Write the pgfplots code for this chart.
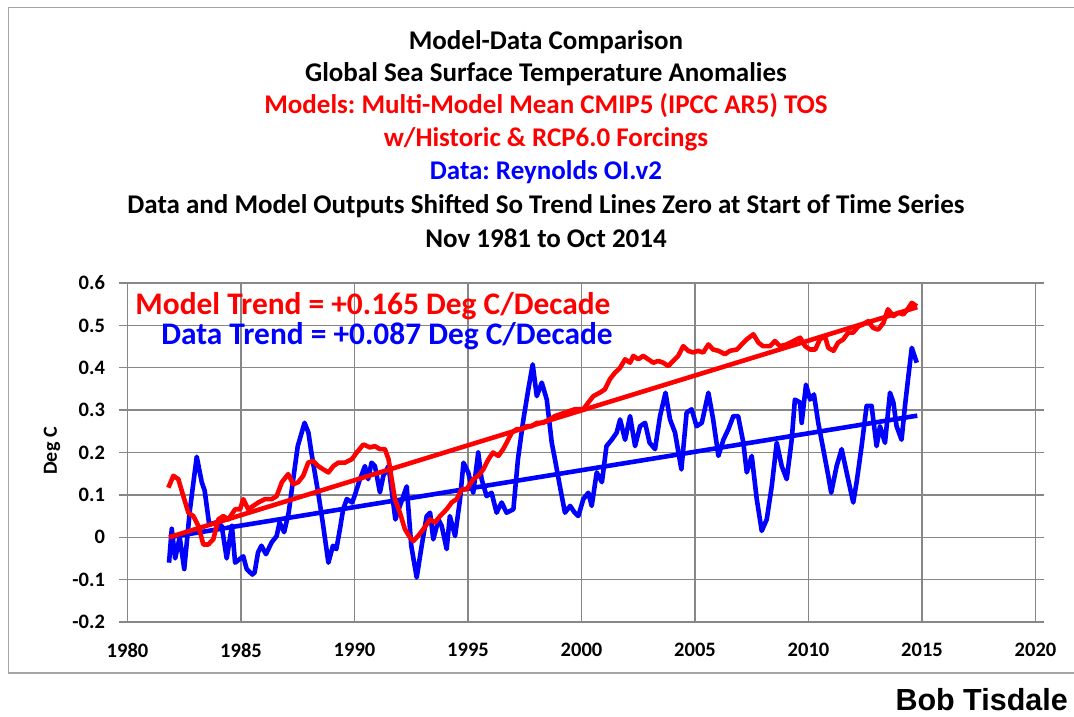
\documentclass[border=0pt]{standalone}
\usepackage{fontspec}
\setmainfont{Carlito}
\newfontfamily\arialfont{Liberation Sans}
\usepackage{pgfplots}
\pgfplotsset{compat=1.18}
\frenchspacing

\definecolor{gridgray}{RGB}{135,135,135}
\definecolor{framegray}{RGB}{165,165,165}

\begin{document}
\begin{tikzpicture}
\path[use as bounding box] (0pt,0pt) rectangle (1074pt,-717pt);
\draw[framegray, line width=1.2pt] (1074pt,-7.5pt) -- (8.5pt,-7.5pt) -- (8.5pt,-673pt) -- (1074pt,-673pt);

% title block
\begin{scope}[every node/.style={anchor=base, inner sep=0pt, font=\bfseries\fontsize{27}{30}\selectfont}]
\node at (546pt,-49.5pt) {Model-Data Comparison};
\node at (546pt,-81.5pt) {Global Sea Surface Temperature Anomalies};
\node[red] at (546pt,-113.5pt) {Models: Multi-Model Mean CMIP5 (IPCC AR5) TOS};
\node[red] at (546pt,-146.5pt) {w/Historic \& RCP6.0 Forcings};
\node[blue] at (546pt,-179.5pt) {Data: Reynolds OI.v2};
\node at (546pt,-213.5pt) {Data and Model Outputs Shifted So Trend Lines Zero at Start of Time Series};
\node at (546pt,-247.5pt) {Nov 1981 to Oct 2014};
\end{scope}

\begin{axis}[
  at={(127.5pt,-622pt)}, anchor=south west,
  width=908pt, height=339pt, scale only axis,
  xmin=1980, xmax=2020, ymin=-0.2, ymax=0.6,
  xtick={1980,1985,...,2020},
  ytick={-0.2,-0.1,0,0.1,0.2,0.3,0.4,0.5,0.6},
  grid=major,
  major grid style={gridgray, line width=1.4pt},
  axis line style={gridgray, line width=1.4pt},
  tick align=outside,
  major tick length=9pt,
  xtick style={draw=none},
  ytick style={gridgray, line width=1.4pt},
  ticklabel style={font=\bfseries\fontsize{20.5}{22}\selectfont},
  xticklabel style={yshift=-9pt},
  yticklabel style={xshift=-10pt},
  /pgf/number format/assume math mode=true,
  /pgf/number format/1000 sep={},
  clip=false,
]
% data: Reynolds OI.v2
\addplot[blue, line width=4.6pt, line join=round] coordinates {
(1981.83,-0.06) (1981.95,0.02) (1982.1,-0.05) (1982.3,0.0) (1982.5,-0.075)
(1982.75,0.065) (1983.05,0.19) (1983.27,0.13) (1983.4,0.11) (1983.6,0.03)
(1983.9,0.035) (1984.15,0.027) (1984.37,-0.05) (1984.6,0.027) (1984.74,-0.06)
(1985.1,-0.045) (1985.25,-0.075) (1985.5,-0.088) (1985.6,-0.083) (1985.75,-0.036)
(1985.9,-0.02) (1986.1,-0.04) (1986.35,-0.012) (1986.57,0.003) (1986.7,0.035)
(1986.9,0.012) (1987.1,0.058) (1987.3,0.137) (1987.5,0.215) (1987.8,0.27)
(1987.97,0.247) (1988.1,0.2) (1988.4,0.105) (1988.6,0.035) (1988.85,-0.06)
(1989.05,-0.02) (1989.2,-0.028) (1989.36,0.02) (1989.5,0.066) (1989.66,0.09)
(1989.9,0.082) (1990.0,0.097) (1990.24,0.137) (1990.46,0.168) (1990.6,0.137)
(1990.75,0.176) (1990.9,0.168) (1991.12,0.106) (1991.27,0.145) (1991.5,0.168)
(1991.8,0.042) (1992.0,0.074) (1992.3,0.12) (1992.5,-0.02) (1992.74,-0.095)
(1992.96,-0.02) (1993.18,0.05) (1993.33,0.058) (1993.47,-0.005) (1993.7,0.042)
(1993.84,0.027) (1994.06,-0.028) (1994.2,0.05) (1994.43,0.003) (1994.65,0.09)
(1994.8,0.176) (1995.01,0.153) (1995.23,0.105) (1995.45,0.2) (1995.6,0.137)
(1995.82,0.097) (1996.04,0.105) (1996.26,0.058) (1996.48,0.082) (1996.7,0.058)
(1997.0,0.066) (1997.2,0.184) (1997.44,0.278) (1997.66,0.35) (1997.85,0.408)
(1998.03,0.333) (1998.25,0.365) (1998.47,0.325) (1998.69,0.223) (1998.83,0.184)
(1999.05,0.12) (1999.27,0.058) (1999.5,0.074) (1999.7,0.058) (1999.86,0.05)
(2000.08,0.09) (2000.3,0.105) (2000.45,0.074) (2000.67,0.153) (2000.9,0.13)
(2001.1,0.215) (2001.33,0.23) (2001.55,0.247) (2001.7,0.278) (2001.92,0.23)
(2002.14,0.286) (2002.36,0.215) (2002.58,0.262) (2002.8,0.27) (2003.0,0.223)
(2003.24,0.208) (2003.46,0.286) (2003.7,0.341) (2003.9,0.278) (2004.12,0.247)
(2004.4,0.16) (2004.63,0.294) (2004.85,0.302) (2005.07,0.262) (2005.3,0.27)
(2005.59,0.341) (2005.8,0.278) (2006.03,0.192) (2006.25,0.23) (2006.47,0.255)
(2006.69,0.286) (2006.9,0.286) (2007.13,0.223) (2007.28,0.153) (2007.5,0.192)
(2007.72,0.09) (2007.94,0.015) (2008.16,0.042) (2008.38,0.12) (2008.6,0.223)
(2008.82,0.168) (2009.04,0.137) (2009.26,0.23) (2009.4,0.325) (2009.63,0.318)
(2009.7,0.27) (2009.89,0.36) (2010.07,0.325) (2010.24,0.337) (2010.43,0.27)
(2010.65,0.208) (2010.87,0.145) (2011.0,0.105) (2011.24,0.168) (2011.46,0.208)
(2011.68,0.153) (2011.97,0.082) (2012.12,0.13) (2012.34,0.215) (2012.56,0.31)
(2012.78,0.31) (2013.0,0.215) (2013.15,0.262) (2013.37,0.223) (2013.59,0.341)
(2013.74,0.318) (2013.88,0.262) (2014.1,0.23) (2014.25,0.31) (2014.4,0.38)
(2014.55,0.447) (2014.77,0.412)
};
% data trend
\addplot[blue, line width=4.6pt] coordinates {(1981.83,0) (2014.79,0.287)};
% models: multi-model mean
\addplot[red, line width=4.6pt, line join=round] coordinates {
(1981.8,0.117) (1982.02,0.145) (1982.24,0.137) (1982.46,0.097) (1982.68,0.058)
(1982.9,0.05) (1983.12,0.027) (1983.34,-0.017) (1983.56,-0.017) (1983.78,-0.005)
(1984.0,0.042) (1984.22,0.05) (1984.44,0.042) (1984.74,0.066) (1984.96,0.066)
(1985.1,0.09) (1985.32,0.066) (1985.54,0.074) (1985.76,0.082) (1986.06,0.09)
(1986.35,0.09) (1986.57,0.097) (1986.8,0.13) (1987.08,0.149) (1987.3,0.125)
(1987.52,0.13) (1987.74,0.145) (1987.96,0.176) (1988.18,0.18) (1988.4,0.168)
(1988.63,0.16) (1988.85,0.153) (1989.07,0.168) (1989.29,0.176) (1989.58,0.176)
(1989.88,0.184) (1990.1,0.2) (1990.39,0.219) (1990.68,0.212) (1990.9,0.215)
(1991.12,0.208) (1991.34,0.208) (1991.5,0.184) (1991.64,0.137) (1991.78,0.09)
(1992.0,0.058) (1992.22,0.019) (1992.44,0.0) (1992.59,-0.009) (1992.8,0.003)
(1993.03,0.019) (1993.33,0.042) (1993.55,0.035) (1993.77,0.05) (1994.06,0.066)
(1994.28,0.082) (1994.5,0.09) (1994.72,0.113) (1994.94,0.113) (1995.23,0.137)
(1995.45,0.145) (1995.67,0.16) (1995.9,0.184) (1996.1,0.2) (1996.34,0.192)
(1996.55,0.208) (1996.7,0.223) (1996.93,0.247) (1997.15,0.255) (1997.37,0.255)
(1997.59,0.262) (1997.8,0.262) (1998.03,0.27) (1998.3,0.27) (1998.6,0.278)
(1998.83,0.286) (1999.27,0.294) (1999.7,0.302) (2000.08,0.302) (2000.3,0.318)
(2000.52,0.333) (2000.8,0.341) (2001.03,0.349) (2001.25,0.373) (2001.47,0.388)
(2001.7,0.4) (2001.92,0.42) (2002.14,0.412) (2002.28,0.428) (2002.5,0.42)
(2002.72,0.428) (2002.94,0.42) (2003.16,0.412) (2003.38,0.416) (2003.6,0.412)
(2003.82,0.404) (2004.04,0.416) (2004.26,0.428) (2004.48,0.451) (2004.7,0.44)
(2004.92,0.436) (2005.14,0.44) (2005.36,0.436) (2005.59,0.455) (2005.8,0.443)
(2006.03,0.44) (2006.32,0.432) (2006.54,0.44) (2006.84,0.443) (2007.06,0.455)
(2007.28,0.467) (2007.57,0.479) (2007.8,0.459) (2008.0,0.451) (2008.3,0.451)
(2008.52,0.463) (2008.74,0.451) (2009.04,0.455) (2009.33,0.463) (2009.63,0.471)
(2009.85,0.451) (2010.07,0.443) (2010.3,0.443) (2010.5,0.467) (2010.72,0.475)
(2010.87,0.447) (2011.1,0.44) (2011.3,0.459) (2011.53,0.467) (2011.75,0.483)
(2011.97,0.483) (2012.2,0.498) (2012.4,0.502) (2012.63,0.51) (2012.85,0.494)
(2013.07,0.49) (2013.3,0.506) (2013.5,0.538) (2013.74,0.522) (2013.96,0.53)
(2014.18,0.526) (2014.4,0.541) (2014.55,0.553) (2014.77,0.545)
};
% model trend
\addplot[red, line width=4.6pt] coordinates {(1981.83,0) (2014.79,0.543)};
\end{axis}

\node[rotate=90, anchor=center, inner sep=0pt, font=\bfseries\fontsize{20}{22}\selectfont] at (52pt,-451pt) {Deg C};

\node[red, anchor=base, inner sep=0pt, font=\bfseries\fontsize{31.4}{33}\selectfont] at (373pt,-314pt) {Model Trend = +0.165 Deg C/Decade};
\node[blue, anchor=base, inner sep=0pt, font=\bfseries\fontsize{31.4}{33}\selectfont] at (387pt,-344pt) {Data Trend = +0.087 Deg C/Decade};

\node[anchor=base east, inner sep=0pt, font=\arialfont\bfseries\fontsize{30.5}{32}\selectfont] at (1068pt,-710pt) {Bob Tisdale};
\end{tikzpicture}
\end{document}
